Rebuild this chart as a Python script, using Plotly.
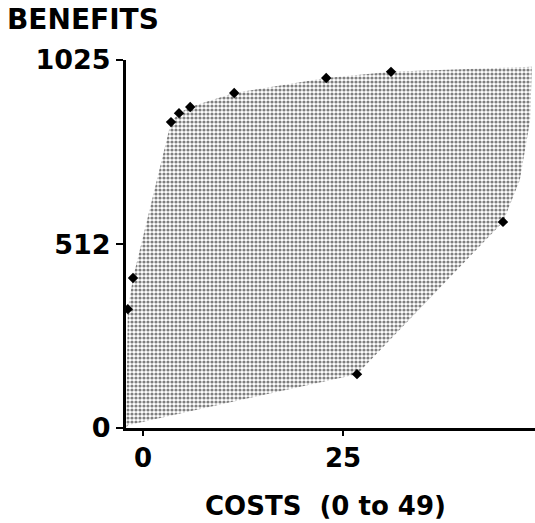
import plotly.graph_objects as go

# Feasible region boundary (costs, benefits)
region_cost = [-2.1, -1.9, -1.25, 3.5, 4.5, 5.9, 11.4, 22.9, 31.0, 48.6, 48.4, 47.1, 45.0, 26.75, -1.9]
region_benefit = [0, 331, 418, 852, 877, 894, 933, 975, 992, 1006, 858, 691, 574, 150, 8]

# Highlighted solutions (diamonds)
point_cost = [-1.9, -1.25, 3.5, 4.5, 5.9, 11.4, 22.9, 31.0, 45.0, 26.75]
point_benefit = [331, 418, 852, 877, 894, 933, 975, 992, 574, 150]

x_ticks = [0, 25]
x_ticklabels = ["0", "25"]
y_ticks = [0, 512, 1025]
y_ticklabels = ["0", "512", "1025"]

FONT = "DejaVu Sans, sans-serif"

fig = go.Figure()
fig.add_trace(go.Scatter(
    x=region_cost, y=region_benefit, mode="lines", fill="toself",
    line=dict(width=0, color="rgba(0,0,0,0)"),
    fillcolor="rgba(0,0,0,0)",
    fillpattern=dict(shape=".", fgcolor="black", bgcolor="white", size=4, solidity=0.5),
    hoverinfo="skip", showlegend=False,
))
fig.add_trace(go.Scatter(
    x=point_cost, y=point_benefit, mode="markers",
    marker=dict(symbol="diamond", size=8, color="black"),
    showlegend=False,
))

fig.update_layout(
    width=535, height=523,
    margin=dict(l=126, r=0, t=60, b=95),
    paper_bgcolor="white", plot_bgcolor="white",
    font=dict(family=FONT, color="black"),
    xaxis=dict(
        range=[-2.125, 49.0], showgrid=False, zeroline=False,
        showline=True, linecolor="black", linewidth=3,
        tickmode="array", tickvals=x_ticks, ticktext=x_ticklabels,
        ticks="outside", ticklen=5, tickwidth=2, tickcolor="black",
        tickfont=dict(size=26, family=FONT, weight="bold"),
    ),
    yaxis=dict(
        range=[0, 1025], showgrid=False, zeroline=False,
        showline=True, linecolor="black", linewidth=3,
        tickmode="array", tickvals=y_ticks, ticktext=y_ticklabels,
        ticks="outside", ticklen=7, tickwidth=2, tickcolor="black",
        tickfont=dict(size=27, family=FONT, weight="bold"),
    ),
    annotations=[
        dict(text="BENEFITS", xref="paper", yref="paper", x=-0.295, y=1.16,
             xanchor="left", yanchor="top", showarrow=False,
             font=dict(size=28, family=FONT, weight="bold")),
        dict(text="COSTS\u00a0\u00a0(0 to 49)", xref="paper", yref="paper", x=0.487, y=-0.212,
             xanchor="center", yanchor="middle", showarrow=False,
             font=dict(size=26, family=FONT, weight="bold")),
    ],
)

fig.write_html(
    "out.html",
    config={"displayModeBar": False},
    post_script="document.body.style.margin='0';document.body.style.overflow='hidden';",
)
